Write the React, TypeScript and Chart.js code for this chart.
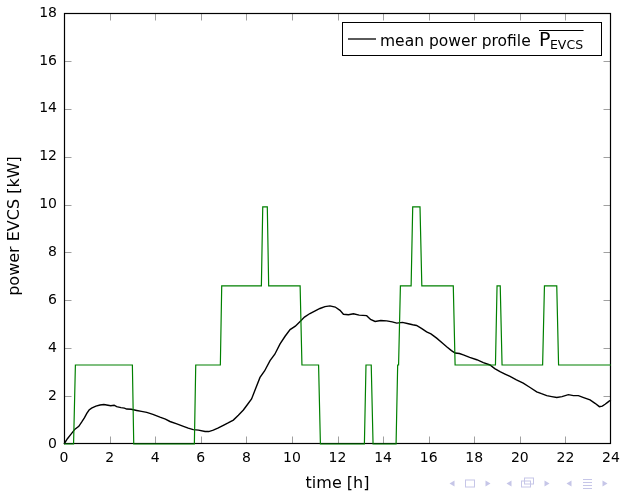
import React, { useEffect, useRef } from "react";
import { Chart, registerables } from "chart.js";

Chart.register(...registerables);

// ---- data ----
const xTicks = [0, 2, 4, 6, 8, 10, 12, 14, 16, 18, 20, 22, 24];
const yTicks = [0, 2, 4, 6, 8, 10, 12, 14, 16, 18];

const meanTime = [
  0, 0.15, 0.3, 0.48, 0.65, 0.78, 0.9, 1.0, 1.1, 1.21,
  1.4, 1.58, 1.75, 1.87, 2.05, 2.2, 2.31, 2.5, 2.65, 2.75,
  2.95, 3.19, 3.4, 3.63, 3.9, 4.21, 4.45, 4.65, 4.95, 5.24,
  5.45, 5.67, 5.9, 6.19, 6.35, 6.55, 6.75, 6.99, 7.2, 7.43,
  7.65, 7.87, 8.05, 8.23, 8.4, 8.6, 8.8, 9.04, 9.25, 9.48,
  9.7, 9.92, 10.15, 10.36, 10.55, 10.79, 11.0, 11.23, 11.45, 11.67,
  11.9, 12.11, 12.26, 12.48, 12.7, 12.95, 13.28, 13.45, 13.65, 13.9,
  14.16, 14.4, 14.6, 14.85, 15.11, 15.3, 15.47, 15.7, 15.91, 16.1,
  16.35, 16.6, 16.79, 17.0, 17.16, 17.35, 17.52, 17.8, 18.11, 18.4,
  18.69, 18.9, 19.13, 19.35, 19.57, 19.85, 20.15, 20.45, 20.74, 20.95,
  21.18, 21.4, 21.62, 21.85, 22.13, 22.35, 22.57, 22.8, 23.08, 23.3,
  23.49, 23.62, 23.74, 23.85, 23.93, 24,
];
const meanPower = [
  0, 0.22, 0.4, 0.62, 0.74, 0.92, 1.1, 1.28, 1.42, 1.5,
  1.58, 1.63, 1.65, 1.63, 1.6, 1.62, 1.56, 1.52, 1.5, 1.46,
  1.45, 1.4, 1.36, 1.32, 1.24, 1.12, 1.04, 0.94, 0.84, 0.74,
  0.66, 0.6, 0.58, 0.52, 0.52, 0.58, 0.66, 0.78, 0.88, 1.0,
  1.2, 1.42, 1.65, 1.88, 2.3, 2.78, 3.05, 3.48, 3.75, 4.18,
  4.5, 4.78, 4.92, 5.12, 5.3, 5.45, 5.55, 5.66, 5.74, 5.77,
  5.72, 5.58, 5.42, 5.4, 5.44, 5.38, 5.36, 5.2, 5.12, 5.16,
  5.14, 5.1, 5.05, 5.08, 5.02, 4.98, 4.95, 4.82, 4.68, 4.6,
  4.42, 4.22, 4.06, 3.9, 3.8, 3.78, 3.72, 3.62, 3.52, 3.4,
  3.3, 3.15, 3.02, 2.92, 2.82, 2.68, 2.54, 2.36, 2.18, 2.1,
  2.02, 1.98, 1.94, 1.98, 2.06, 2.02, 2.02, 1.94, 1.84, 1.7,
  1.56, 1.58, 1.66, 1.74, 1.8, 1.82,
];

const stepTime = [
  0, 0.42, 0.5, 3.0, 3.06, 5.72, 5.78, 6.86, 6.92, 8.66,
  8.72, 8.92, 8.98, 10.36, 10.44, 11.17, 11.25, 13.18, 13.25, 13.48,
  13.56, 14.57, 14.64, 14.68, 14.76, 15.23, 15.3, 15.62, 15.7, 17.08,
  17.16, 18.93, 19.0, 19.14, 19.22, 21.0, 21.08, 21.62, 21.7, 24,
];
const stepPower = [
  0, 0, 3.3, 3.3, 0, 0, 3.3, 3.3, 6.6, 6.6,
  9.9, 9.9, 6.6, 6.6, 3.3, 3.3, 0, 0, 3.3, 3.3,
  0, 0, 3.3, 3.3, 6.6, 6.6, 9.9, 9.9, 6.6, 6.6,
  3.3, 3.3, 6.6, 6.6, 3.3, 3.3, 6.6, 6.6, 3.3, 3.3,
];

const xTitle = "time [h]";
const yTitle = "power EVCS [kW]";
const legendText = "mean power profile";
const legendSymbol = "P";
const legendSub = "EVCS";

const FONT = "'DejaVu Sans', sans-serif";

const decorPlugin = {
  id: "decor",
  beforeDatasetsDraw(chart: any) {
    const { ctx, chartArea: a, scales } = chart;
    const L = Math.round(a.left) + 0.5;
    const R = Math.round(a.right) - 0.5;
    const T = Math.round(a.top) + 0.5;
    const B = Math.round(a.bottom) - 0.5;
    ctx.save();
    // inward ticks
    ctx.strokeStyle = "#a0a0a0";
    ctx.lineWidth = 1;
    ctx.beginPath();
    for (const v of xTicks) {
      if (v === 0 || v === 24) continue;
      const px = Math.round(scales.x.getPixelForValue(v)) + 0.5;
      ctx.moveTo(px, B);
      ctx.lineTo(px, B - 7);
      ctx.moveTo(px, T);
      ctx.lineTo(px, T + 7);
    }
    for (const v of yTicks) {
      if (v === 0 || v === 18) continue;
      const py = Math.round(scales.y.getPixelForValue(v)) + 0.5;
      ctx.moveTo(L, py);
      ctx.lineTo(L + 7, py);
      ctx.moveTo(R, py);
      ctx.lineTo(R - 7, py);
    }
    ctx.stroke();
    // frame
    ctx.strokeStyle = "#000";
    ctx.lineWidth = 1.2;
    ctx.strokeRect(L, T, R - L, B - T);
    ctx.restore();
  },
  afterDraw(chart: any) {
    const { ctx, chartArea: a } = chart;
    ctx.save();
    ctx.fillStyle = "#000";
    // axis titles
    ctx.font = `16px ${FONT}`;
    ctx.textAlign = "center";
    ctx.textBaseline = "middle";
    ctx.fillText(xTitle, (a.left + a.right) / 2, 484);
    ctx.save();
    ctx.translate(15, 226);
    ctx.rotate(-Math.PI / 2);
    ctx.fillText(yTitle, 0, 0);
    ctx.restore();

    // legend
    const bx = 342.5, by = 22.5, bw = 259, bh = 33;
    ctx.fillStyle = "#fff";
    ctx.fillRect(bx, by, bw, bh);
    ctx.strokeStyle = "#000";
    ctx.lineWidth = 1;
    ctx.strokeRect(bx, by, bw, bh);
    ctx.beginPath();
    ctx.lineWidth = 1.3;
    ctx.moveTo(348, 39);
    ctx.lineTo(376, 39);
    ctx.stroke();
    ctx.fillStyle = "#000";
    ctx.textAlign = "left";
    ctx.textBaseline = "alphabetic";
    ctx.font = `15.5px ${FONT}`;
    ctx.fillText(legendText, 380, 46);
    const px = 539;
    ctx.font = `19px ${FONT}`;
    ctx.fillText(legendSymbol, px, 46);
    const pw = ctx.measureText(legendSymbol).width;
    ctx.font = `12.5px ${FONT}`;
    ctx.fillText(legendSub, px + pw - 0.5, 48.5);
    const sw = ctx.measureText(legendSub).width;
    ctx.beginPath();
    ctx.lineWidth = 1;
    ctx.moveTo(px, 30.5);
    ctx.lineTo(px + pw + sw, 30.5);
    ctx.stroke();

    // navigation symbols (decorative)
    ctx.fillStyle = "#c6c6e8";
    ctx.strokeStyle = "#c6c6e8";
    ctx.lineWidth = 1;
    const cy = 483.5;
    const triL = (x: number) => {
      ctx.beginPath();
      ctx.moveTo(x + 2.5, cy - 3);
      ctx.lineTo(x - 2.5, cy);
      ctx.lineTo(x + 2.5, cy + 3);
      ctx.closePath();
      ctx.fill();
    };
    const triR = (x: number) => {
      ctx.beginPath();
      ctx.moveTo(x - 2.5, cy - 3);
      ctx.lineTo(x + 2.5, cy);
      ctx.lineTo(x - 2.5, cy + 3);
      ctx.closePath();
      ctx.fill();
    };
    triL(452); ctx.strokeRect(465.5, cy - 3.5, 9, 7); triR(488);
    triL(509);
    ctx.strokeRect(521.5, cy - 2.5, 9, 6);
    ctx.strokeRect(524.5, cy - 5.5, 9, 6);
    triR(547);
    triL(569);
    ctx.beginPath();
    for (const dy of [-4, -1, 2, 5]) {
      ctx.moveTo(583, cy + dy);
      ctx.lineTo(592, cy + dy);
    }
    ctx.stroke();
    triR(605);
    ctx.restore();
  },
};

export default function App() {
  const ref = useRef<HTMLCanvasElement | null>(null);
  useEffect(() => {
    document.body.style.margin = "0";
    const canvas = ref.current!;
    const chart = new Chart(canvas, {
      type: "line",
      data: {
        datasets: [
          {
            label: "step",
            data: stepTime.map((t, i) => ({ x: t, y: stepPower[i] })),
            borderColor: "#008000",
            borderWidth: 1.2,
            pointRadius: 0,
            tension: 0,
            fill: false,
            clip: 3,
          } as any,
          {
            label: "mean power profile",
            data: meanTime.map((t, i) => ({ x: t, y: meanPower[i] })),
            borderColor: "#000",
            borderWidth: 1.4,
            pointRadius: 0,
            tension: 0,
            fill: false,
            clip: 3,
          } as any,
        ],
      },
      options: {
        responsive: false,
        animation: false,
        layout: { padding: { top: 13, right: 9, left: 0, bottom: 0 } },
        plugins: { legend: { display: false }, tooltip: { enabled: false } },
        scales: {
          x: {
            type: "linear",
            min: 0,
            max: 24,
            afterFit: (s: any) => {
              s.height = 49;
              s.paddingLeft = 0;
              s.paddingRight = 0;
            },
            afterBuildTicks: (s: any) => { s.ticks = xTicks.map((v) => ({ value: v })); },
            grid: { display: false, drawTicks: false },
            border: { display: false },
            ticks: {
              autoSkip: false,
              maxRotation: 0,
              padding: 6,
              color: "#000",
              font: { family: FONT, size: 14 },
            },
          },
          y: {
            type: "linear",
            min: 0,
            max: 18,
            afterFit: (s: any) => {
              s.width = 64;
              s.paddingTop = 0;
              s.paddingBottom = 0;
            },
            afterBuildTicks: (s: any) => { s.ticks = yTicks.map((v) => ({ value: v })); },
            grid: { display: false, drawTicks: false },
            border: { display: false },
            ticks: {
              autoSkip: false,
              padding: 7,
              color: "#000",
              font: { family: FONT, size: 14 },
            },
          },
        },
      } as any,
      plugins: [decorPlugin],
    });
    return () => chart.destroy();
  }, []);
  return (
    <div style={{ position: "absolute", left: 0, top: 0, width: 620, height: 493 }}>
      <canvas ref={ref} width={620} height={493} />
    </div>
  );
}
